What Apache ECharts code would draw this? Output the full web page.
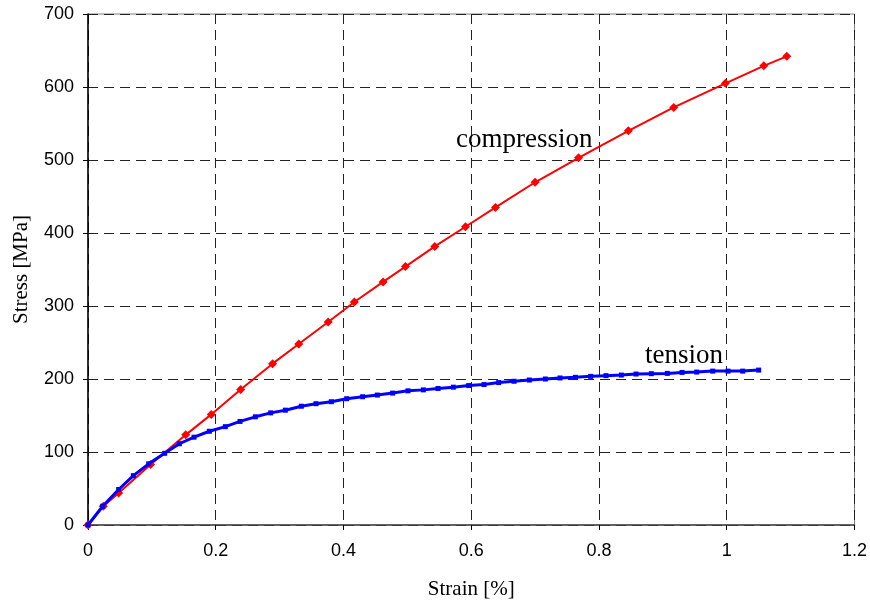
<!DOCTYPE html>
<html>
<head>
<meta charset="utf-8">
<script src="https://cdn.jsdelivr.net/npm/echarts@6/dist/echarts.min.js"></script>
<style>
  html, body { margin: 0; padding: 0; background: #fff; }
  #chart { width: 870px; height: 605px; }
</style>
</head>
<body>
<div id="chart"></div>
<script>
// tension test (blue)
const tensionStrain = [0, 0.023, 0.048, 0.071, 0.095, 0.120, 0.143, 0.166, 0.190, 0.215, 0.238, 0.262,
  0.286, 0.309, 0.334, 0.357, 0.381, 0.405, 0.430, 0.453, 0.477, 0.501, 0.525, 0.548, 0.572, 0.596,
  0.620, 0.643, 0.667, 0.691, 0.716, 0.739, 0.763, 0.787, 0.811, 0.835, 0.858, 0.882, 0.907, 0.930,
  0.953, 0.978, 1.002, 1.025, 1.050];
const tensionStress = [0, 25.7, 48.6, 67.6, 83.8, 98.2, 111.3, 120.3, 128.4, 134.7, 141.9, 148.2,
  153.6, 157.3, 162.7, 166.2, 168.9, 173, 175.7, 178, 180.7, 183.8, 185.1, 187, 188.8, 191,
  192.4, 195.1, 196.9, 198.6, 200, 201.4, 202.3, 203.6, 204.6, 205.4, 206.8, 207.3, 207.7, 209,
  209.5, 210.8, 210.8, 210.8, 212.2];

// compression test (red)
const compressionStrain = [0, 0.024, 0.048, 0.098, 0.153, 0.193, 0.239, 0.289, 0.330, 0.376, 0.417,
  0.462, 0.497, 0.543, 0.591, 0.638, 0.700, 0.768, 0.846, 0.917, 0.998, 1.058, 1.094];
const compressionStress = [0, 25.7, 43.8, 83, 123.5, 151.5, 185.7, 221, 248, 278, 305.5,
  333, 354, 381.6, 408.6, 435, 469.5, 503, 540, 572, 605, 629, 642];

const xLabels = ['0', '0.2', '0.4', '0.6', '0.8', '1', '1.2'];

function pairs(xs, ys) {
  return xs.map((x, i) => [x, ys[i]]);
}

const chart = echarts.init(document.getElementById('chart'));

const gridLine = {show: true, lineStyle: {color: '#222', width: 1, type: [10, 6]}};
const curveLabel = {fontFamily: 'Liberation Serif', fontSize: 27, color: '#000'};

const option = {
  animation: false,
  grid: {
    left: 88, right: 14, top: 14, bottom: 73,
    show: true, borderColor: '#808080', borderWidth: 1
  },
  xAxis: {
    type: 'value', min: 0, max: 1.2, interval: 0.2,
    name: 'Strain [%]', nameLocation: 'middle', nameGap: 54,
    nameTextStyle: {fontFamily: 'Liberation Serif', fontSize: 21, color: '#000'},
    axisLine: {show: true, onZero: false, lineStyle: {color: '#444', width: 1.5}},
    axisTick: {show: true, length: 5, lineStyle: {color: '#000'}},
    axisLabel: {
      fontFamily: 'Liberation Sans', fontSize: 18, color: '#000', margin: 17,
      formatter: (v) => xLabels[Math.round(v / 0.2)]
    },
    splitLine: gridLine
  },
  yAxis: {
    type: 'value', min: 0, max: 700, interval: 100,
    name: 'Stress [MPa]', nameLocation: 'middle', nameGap: 56,
    nameTextStyle: {fontFamily: 'Liberation Serif', fontSize: 21, color: '#000'},
    axisLine: {show: true, lineStyle: {color: '#000', width: 1.5}},
    axisTick: {show: true, length: 5, lineStyle: {color: '#000'}},
    axisLabel: {fontFamily: 'Liberation Sans', fontSize: 18, color: '#000', margin: 14},
    splitLine: gridLine
  },
  series: [
    {
      name: 'compression',
      type: 'line',
      data: pairs(compressionStrain, compressionStress),
      symbol: 'diamond', symbolSize: 9, showAllSymbol: true,
      lineStyle: {color: '#ff0000', width: 2},
      itemStyle: {color: '#ff0000'},
      z: 2,
      markPoint: {
        symbol: 'circle', symbolSize: 0,
        data: [{
          coord: [0.683, 527],
          label: Object.assign({show: true, position: 'inside', formatter: 'compression'}, curveLabel)
        }]
      }
    },
    {
      name: 'tension',
      type: 'line',
      data: pairs(tensionStrain, tensionStress),
      symbol: 'rect', symbolSize: 5, showAllSymbol: true,
      lineStyle: {color: '#0000ff', width: 3},
      itemStyle: {color: '#0000ff'},
      z: 3,
      markPoint: {
        symbol: 'circle', symbolSize: 0,
        data: [{
          coord: [0.933, 231],
          label: Object.assign({show: true, position: 'inside', formatter: 'tension'}, curveLabel)
        }]
      }
    }
  ]
};

chart.setOption(option);
</script>
</body>
</html>
